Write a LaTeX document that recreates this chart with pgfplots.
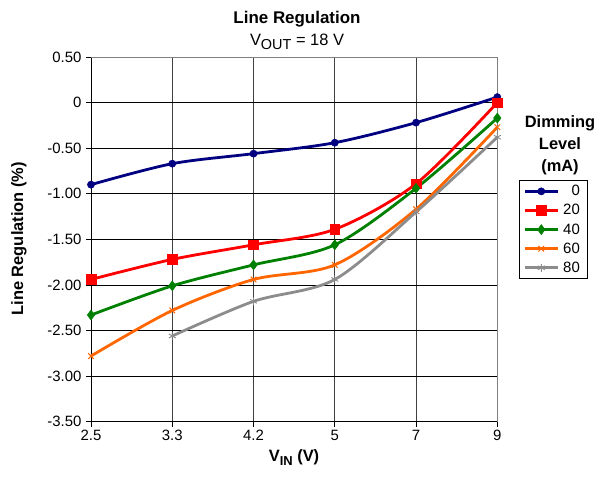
\documentclass[border=0pt]{standalone}
\usepackage{pgfplots}
\pgfplotsset{compat=1.18}
\usepackage{fontspec}
\setmainfont{Liberation Sans}
\definecolor{cblue}{HTML}{000080}
\definecolor{cred}{HTML}{FF0000}
\definecolor{cgreen}{HTML}{008000}
\definecolor{corange}{HTML}{FF6600}
\definecolor{cgray}{HTML}{8C8C8C}
\begin{document}
\begin{tikzpicture}[x=1bp,y=1bp]
\useasboundingbox (0,0) rectangle (601,478);
\begin{axis}[
  at={(91bp,56.3bp)}, anchor=south west,
  scale only axis, width=406.3bp, height=364.7bp,
  xmin=0, xmax=5, ymin=-3.5, ymax=0.5,
  clip=false,
  axis x line*=bottom, axis y line*=left,
  axis line style={black, line width=0.8bp},
  xtick={0,1,2,3,4,5}, xticklabels={2.5,3.3,4.2,5,7,9},
  ytick={0.5,0,-0.5,-1,-1.5,-2,-3,-3.5},
  yticklabels={0.50,0,-0.50,-1.00,-1.50,-2.00,-3.00,-3.50},
  extra y ticks={-2.5}, extra y tick labels={-2.50},
  extra y tick style={grid=major, major grid style={draw=gray, line width=1.6bp}},
  tick align=outside, major tick length=5bp,
  tick style={black, line width=0.8bp},
  ticklabel style={font=\fontsize{15}{18}\selectfont},
  yticklabel style={xshift=-1bp},
  xmajorgrids, ymajorgrids,
  x grid style={black!75, line width=0.7bp},
  y grid style={black, line width=0.7bp},
  legend style={at={(1.0534,0.6627)}, anchor=north west, draw=black, line width=0.8bp,
    font=\fontsize{15}{18}\selectfont, row sep=3.2bp, inner xsep=4bp, inner ysep=3bp,
    nodes={inner xsep=4bp}},
  legend cell align=right,
  legend image code/.code={\draw[mark repeat=2,mark phase=2,#1] plot coordinates {(0bp,0bp) (16.5bp,0bp) (33bp,0bp)};},
  every axis plot/.append style={line width=2.8bp, smooth, tension=0.5},
]
\addplot[cblue, mark=*, mark size=3.6bp, mark options={solid, fill=cblue, line width=0.5bp}]
  coordinates {(0,-0.90)(1,-0.67)(2,-0.56)(3,-0.44)(4,-0.22)(5,0.06)};
\addlegendentry{0}
\addplot[cred, mark=square*, mark size=4.8bp, mark options={solid, fill=cred, line width=0.5bp}]
  coordinates {(0,-1.94)(1,-1.72)(2,-1.56)(3,-1.39)(4,-0.89)(5,0.00)};
\addlegendentry{20}
\addplot[cgreen, mark=diamond*, mark size=5bp, mark options={solid, fill=cgreen, line width=0.5bp}]
  coordinates {(0,-2.33)(1,-2.01)(2,-1.78)(3,-1.56)(4,-0.94)(5,-0.17)};
\addlegendentry{40}
\addplot[corange, mark=x, mark size=4bp, mark options={solid, line width=1bp}]
  coordinates {(0,-2.78)(1,-2.28)(2,-1.94)(3,-1.78)(4,-1.17)(5,-0.27)};
\addlegendentry{60}
\addplot[cgray, mark=asterisk, mark size=4bp, mark options={solid, line width=0.9bp}]
  coordinates {(1,-2.56)(2,-2.18)(3,-1.94)(4,-1.20)(5,-0.38)};
\addlegendentry{80}
\draw[gray, line width=0.8bp] (rel axis cs:0,1) -- (rel axis cs:1,1) -- (rel axis cs:1,0);
\end{axis}
\node[anchor=base, font=\bfseries\fontsize{17}{20}\selectfont] at (297,454) {Line Regulation};
\node[anchor=base, font=\fontsize{16.5}{20}\selectfont] at (297,432) {V\raisebox{-4bp}{\fontsize{14.5}{16}\selectfont OUT} = 18 V};
\node[anchor=base, rotate=90, font=\bfseries\fontsize{16.5}{20}\selectfont] at (23,239.3) {Line Regulation (\%)};
\node[anchor=base, font=\bfseries\fontsize{16.5}{20}\selectfont] at (294,16) {V\raisebox{-3.5bp}{\fontsize{13}{15}\selectfont IN} (V)};
\node[anchor=base, font=\bfseries\fontsize{16.5}{20}\selectfont] at (560,350) {Dimming};
\node[anchor=base, font=\bfseries\fontsize{16.5}{20}\selectfont] at (560,328) {Level};
\node[anchor=base, font=\bfseries\fontsize{16.5}{20}\selectfont] at (560,306) {(mA)};
\end{tikzpicture}
\end{document}
